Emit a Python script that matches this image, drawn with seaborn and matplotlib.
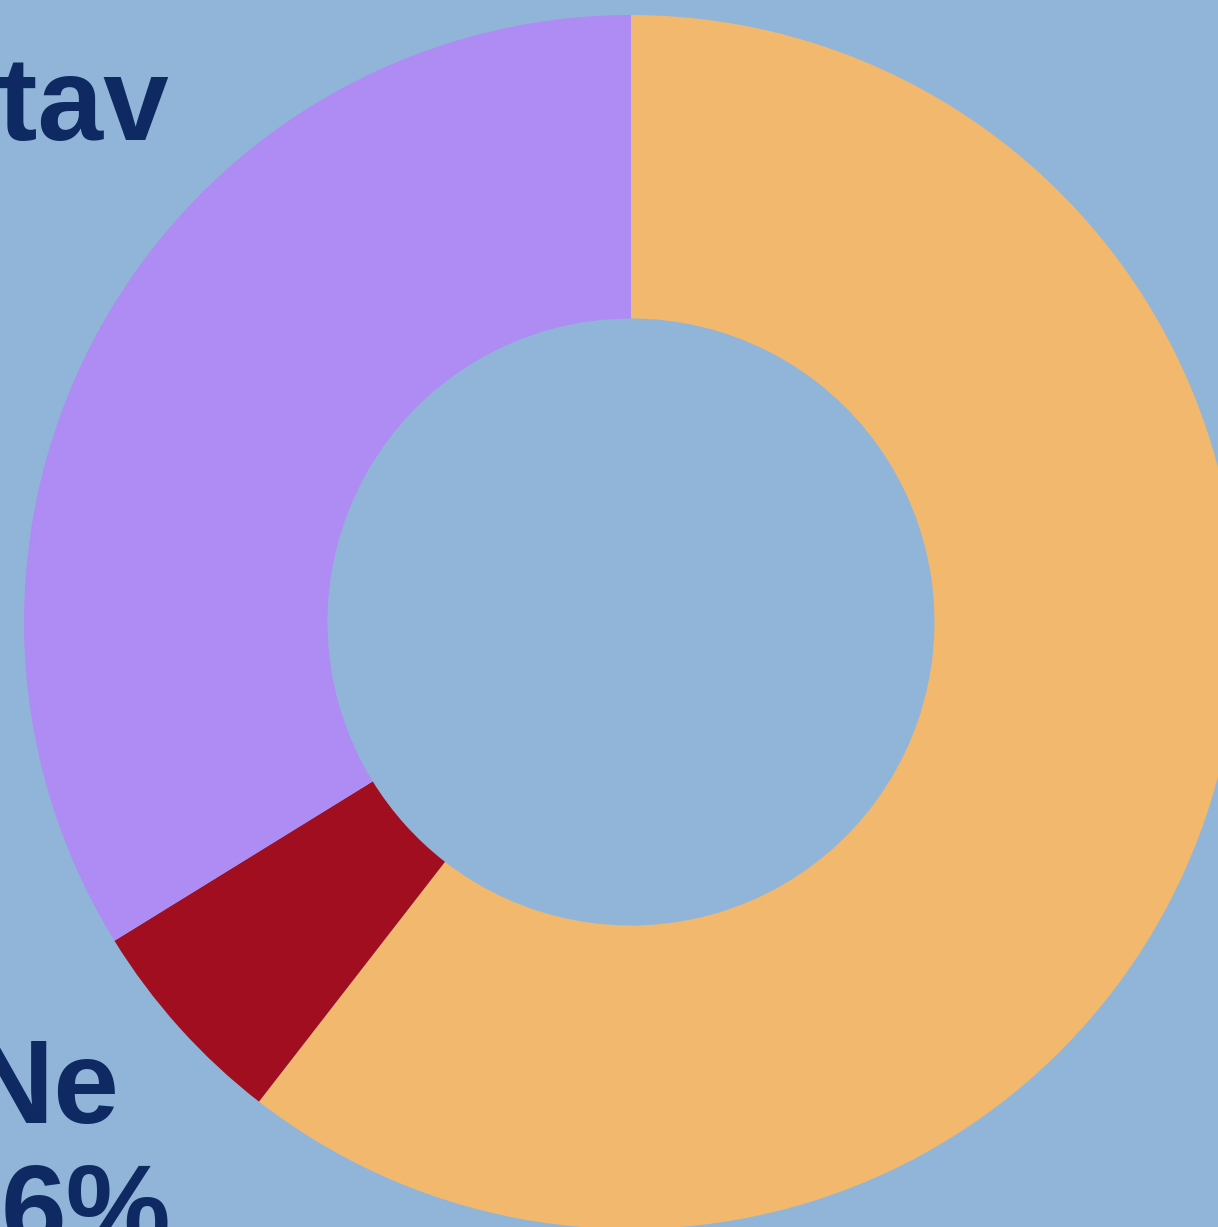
import matplotlib
matplotlib.use('Agg')
import matplotlib.pyplot as plt
import seaborn as sns

odgovori = ['Da', 'Ne', 'Nemam stav']
procenti = [60.5, 5.7, 33.8]
boje = ['#f2b86d', '#a00e20', '#ae8cf3']

pozadina = '#91b5d9'
tekst_boja = '#0f2a63'

sns.set_theme(style='white', rc={'figure.facecolor': pozadina, 'axes.facecolor': pozadina})
plt.rcParams['font.family'] = ['Liberation Sans', 'DejaVu Sans']

fig = plt.figure(figsize=(12.18, 12.27), dpi=100)
ax = fig.add_axes([0, 0, 1, 1])
ax.set_facecolor(pozadina)

ax.pie(procenti, colors=boje, startangle=90, counterclock=False, radius=1,
       wedgeprops=dict(width=0.5, linewidth=0))

# prikaz je isecen: centar krofne u (631, 622) px, poluprecnik 607 px
ax.set_xlim(-631 / 607, (1218 - 631) / 607)
ax.set_ylim(-(1227 - 622) / 607, 622 / 607)
ax.set_aspect('auto')
ax.axis('off')

ax.text(-0.761, 0.794, odgovori[2], ha='right', va='baseline',
        fontsize=85, fontweight='bold', color=tekst_boja)
ax.text(-0.8435, -0.8254, odgovori[1], ha='right', va='baseline',
        fontsize=85, fontweight='bold', color=tekst_boja)
ax.text(-0.758, -1.031, f'{round(procenti[1])}%', ha='right', va='baseline',
        fontsize=85, fontweight='bold', color=tekst_boja)

fig.savefig('out.png', dpi=100, facecolor=pozadina)
